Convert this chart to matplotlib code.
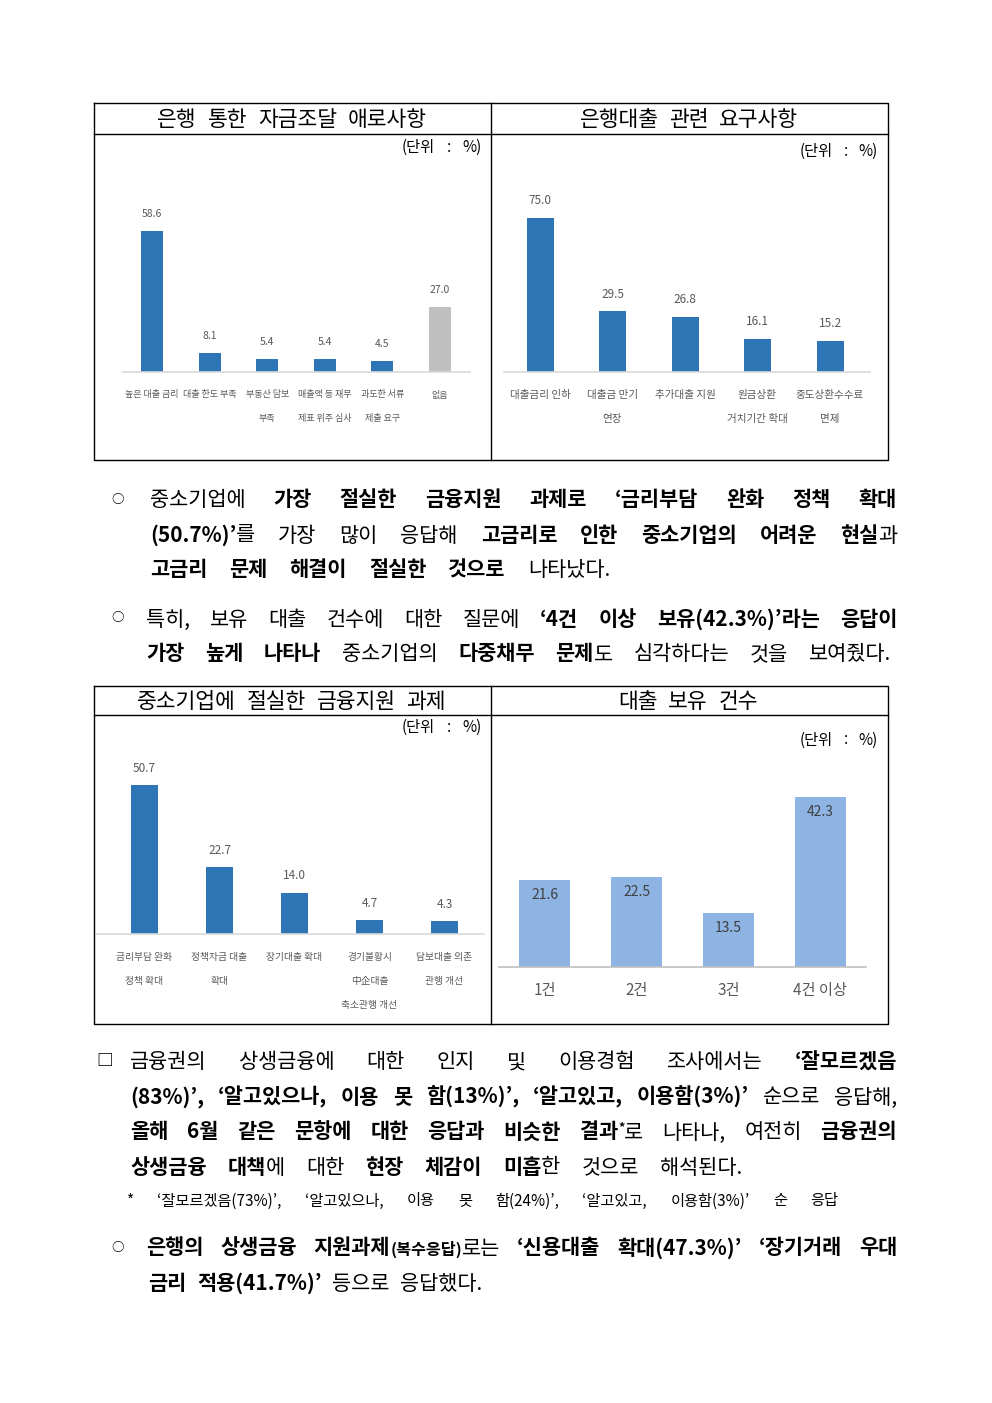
import matplotlib
matplotlib.use("Agg")
import matplotlib.pyplot as plt

plt.rcParams['font.family'] = ['Noto Sans CJK KR', 'DejaVu Sans']

W, H = 992, 1403

# chart data
c1_title = "은행 통한 자금조달 애로사항"
c1_labels = ["높은 대출 금리", "대출 한도 부족", "부동산 담보\n부족", "매출액 등 재무\n제표 위주 심사",
             "과도한 서류\n제출 요구", "없음"]
c1_values = [58.6, 8.1, 5.4, 5.4, 4.5, 27.0]

c2_title = "은행대출 관련 요구사항"
c2_labels = ["대출금리 인하", "대출금 만기\n연장", "추가대출 지원", "원금상환\n거치기간 확대", "중도상환수수료\n면제"]
c2_values = [75.0, 29.5, 26.8, 16.1, 15.2]

c3_title = "중소기업에 절실한 금융지원 과제"
c3_labels = ["금리부담 완화\n정책 확대", "정책자금 대출\n확대", "장기대출 확대", "경기불황시\n中企대출\n축소관행 개선",
             "담보대출 의존\n관행 개선"]
c3_values = [50.7, 22.7, 14.0, 4.7, 4.3]

c4_title = "대출 보유 건수"
c4_labels = ["1건", "2건", "3건", "4건 이상"]
c4_values = [21.6, 22.5, 13.5, 42.3]

unit_text = "(단위 : %)"

# body text: (text, style) segments per line
para1 = [
    [("중소기업에 ", "r"), ("가장 절실한 금융지원 과제로 ‘금리부담 완화 정책 확대", "b")],
    [("(50.7%)’", "b"), ("를 가장 많이 응답해 ", "r"), ("고금리로 인한 중소기업의 어려운 현실", "b"), ("과", "r")],
    [("고금리 문제 해결이 절실한 것으로", "b"), (" 나타났다.", "r")],
]
para2 = [
    [("특히, 보유 대출 건수에 대한 질문에 ", "r"), ("‘4건 이상 보유(42.3%)’라는 응답이", "b")],
    [("가장 높게 나타나", "b"), (" 중소기업의 ", "r"), ("다중채무 문제", "b"), ("도 심각하다는 것을 보여줬다.", "r")],
]
para3 = [
    [("금융권의 상생금융에 대한 인지 및 이용경험 조사에서는 ", "r"), ("‘잘모르겠음", "b")],
    [("(83%)’, ‘알고있으나, 이용 못 함(13%)’, ‘알고있고, 이용함(3%)’", "b"), (" 순으로 응답해,", "r")],
    [("올해 6월 같은 문항에 대한 응답과 비슷한 결과", "b"), ("*", "sup"), ("로 나타나, 여전히 ", "r"), ("금융권의", "b")],
    [("상생금융 대책", "b"), ("에 대한 ", "r"), ("현장 체감이 미흡", "b"), ("한 것으로 해석된다.", "r")],
]
footnote = [("* ‘잘모르겠음(73%)’, ‘알고있으나, 이용 못 함(24%)’, ‘알고있고, 이용함(3%)’ 순 응답", "r")]
para4 = [
    [("은행의 상생금융 지원과제", "b"), ("(복수응답)", "sb"), ("로는 ", "r"), ("‘신용대출 확대(47.3%)’ ‘장기거래 우대", "b")],
    [("금리 적용(41.7%)’", "b"), (" 등으로 응답했다.", "r")],
]

BLUE = "#2E75B6"
GRAY = "#BFBFBF"
LIGHT = "#8DB4E2"
LABEL = "#595959"

fig = plt.figure(figsize=(W / 100, H / 100), dpi=100)
fig.patch.set_facecolor("white")
bg = fig.add_axes([0, 0, 1, 1])
bg.set_xlim(0, W)
bg.set_ylim(H, 0)
bg.axis("off")
renderer = fig.canvas.get_renderer()


def style_kw(st, size):
    if st == "b":
        return dict(fontsize=size, fontweight="bold")
    if st == "sb":
        return dict(fontsize=size * 0.78, fontweight="bold")
    if st == "sup":
        return dict(fontsize=size * 0.6, fontweight="bold")
    return dict(fontsize=size)


def place_line(segments, x0, y, x1, size, color="black"):
    # split segments into words (a space starts a new word), then spread them from x0 to x1
    words = [[]]
    for text, st in segments:
        parts = text.split(" ")
        for k, p in enumerate(parts):
            if k > 0:
                words.append([])
            if p:
                words[-1].append((p, st))
    words = [w for w in words if w]
    em = size * 100 / 72
    yb = y + 0.36 * em
    placed = []
    total = 0
    for w in words:
        row = []
        for p, st in w:
            dy = -0.35 * em if st == "sup" else 0
            t = bg.text(0, yb + dy, p, ha="left", va="baseline", color=color, **style_kw(st, size))
            wd = t.get_window_extent(renderer).width
            row.append((t, wd))
            total += wd
        placed.append(row)
    gap = (x1 - x0 - total) / max(len(words) - 1, 1)
    x = x0
    for row in placed:
        for t, wd in row:
            t.set_x(x)
            x += wd
        x += gap


def px_axes(left, top, right, bottom):
    return fig.add_axes([left / W, 1 - bottom / H, (right - left) / W, (bottom - top) / H])


def bar_panel(values, labels, colors, x_left, x_right, base, scale, first, step, width,
              vsize, lsize, inside=False, line_color="#D9D9D9"):
    top = base - 260
    ax = px_axes(x_left, top, x_right, base)
    ax.patch.set_visible(False)
    ax.set_xlim((x_left - first) / step, (x_right - first) / step)
    ax.set_ylim(0, (base - top) / scale)
    xs = list(range(len(values)))
    ax.bar(xs, values, width=width / step, color=colors, zorder=2)
    for s in ["top", "left", "right"]:
        ax.spines[s].set_visible(False)
    ax.spines["bottom"].set_color(line_color)
    ax.spines["bottom"].set_linewidth(1.2)
    ax.set_xticks([])
    ax.set_yticks([])
    for i, v in enumerate(values):
        if inside:
            ax.annotate(f"{v:.1f}", (i, v), xytext=(0, -15), textcoords="offset pixels",
                        ha="center", va="center", fontsize=vsize, color="#404040", annotation_clip=False)
        else:
            ax.annotate(f"{v:.1f}", (i, v), xytext=(0, 17), textcoords="offset pixels",
                        ha="center", va="center", fontsize=vsize, color=LABEL, annotation_clip=False)
    for i, lab in enumerate(labels):
        for k, line in enumerate(lab.split("\n")):
            off = -24 if inside else -23 - 24 * k
            ax.annotate(line, (i, 0), xytext=(0, off), textcoords="offset pixels",
                        ha="center", va="center", fontsize=lsize, color=LABEL, annotation_clip=False)
    return ax


# table frames
for top, mid, bot in [(103, 134, 460), (686, 715, 1024)]:
    bg.plot([94, 888, 888, 94, 94], [top, top, bot, bot, top], color="black", lw=1.0)
    bg.plot([94, 888], [mid, mid], color="black", lw=1.0)
    bg.plot([491, 491], [top, bot], color="black", lw=1.0)

# chart titles and units
place_line([(c1_title, "r")], 157, 118, 427, 15.5)
place_line([(c2_title, "r")], 580, 118, 798, 15.5)
place_line([(c3_title, "r")], 137, 700, 446, 15.5)
place_line([(c4_title, "r")], 618, 700, 758, 15.5)
place_line([(unit_text, "r")], 402, 146, 482, 11)
place_line([(unit_text, "r")], 800, 150, 878, 11)
place_line([(unit_text, "r")], 402, 726, 482, 11)
place_line([(unit_text, "r")], 800, 739, 878, 11)

bar_panel(c1_values, c1_labels, [BLUE] * 5 + [GRAY], 123, 470, 372, 2.40, 152, 57.6, 22, 7.5, 6.5)
bar_panel(c2_values, c2_labels, BLUE, 504, 870, 372, 2.057, 540, 72.5, 27, 8.5, 7.6)
bar_panel(c3_values, c3_labels, BLUE, 97, 484, 934, 2.933, 144.5, 75, 27.7, 8.5, 7.0)
bar_panel(c4_values, c4_labels, LIGHT, 499, 866, 967, 4.01, 544.7, 91.9, 50.7, 10, 11,
          inside=True, line_color="#BFBFBF")

# body text
BODY = 15
bullets = [("○", 118, 499, 9), ("○", 118, 618, 9), ("□", 105, 1061, 12), ("○", 118, 1247, 9)]
for ch, bx, by, bs in bullets:
    bg.text(bx, by, ch, ha="center", va="center", fontsize=bs, fontweight="bold")

p1_layout = [(150, 499, 897), (150, 534, 897), (150, 569, 610)]
p2_layout = [(146, 618, 897), (146, 653, 891)]
p3_layout = [(130, 1061, 897), (130, 1096, 897), (130, 1131, 897), (130, 1166, 742)]
p4_layout = [(146, 1247, 897), (148, 1282, 482)]

for para, layout in [(para1, p1_layout), (para2, p2_layout), (para3, p3_layout), (para4, p4_layout)]:
    for segs, (x0, y, x1) in zip(para, layout):
        place_line(segs, x0, y, x1, BODY)
place_line(footnote, 127, 1200, 838, 11)

fig.savefig("out.png", dpi=100, facecolor="white")
